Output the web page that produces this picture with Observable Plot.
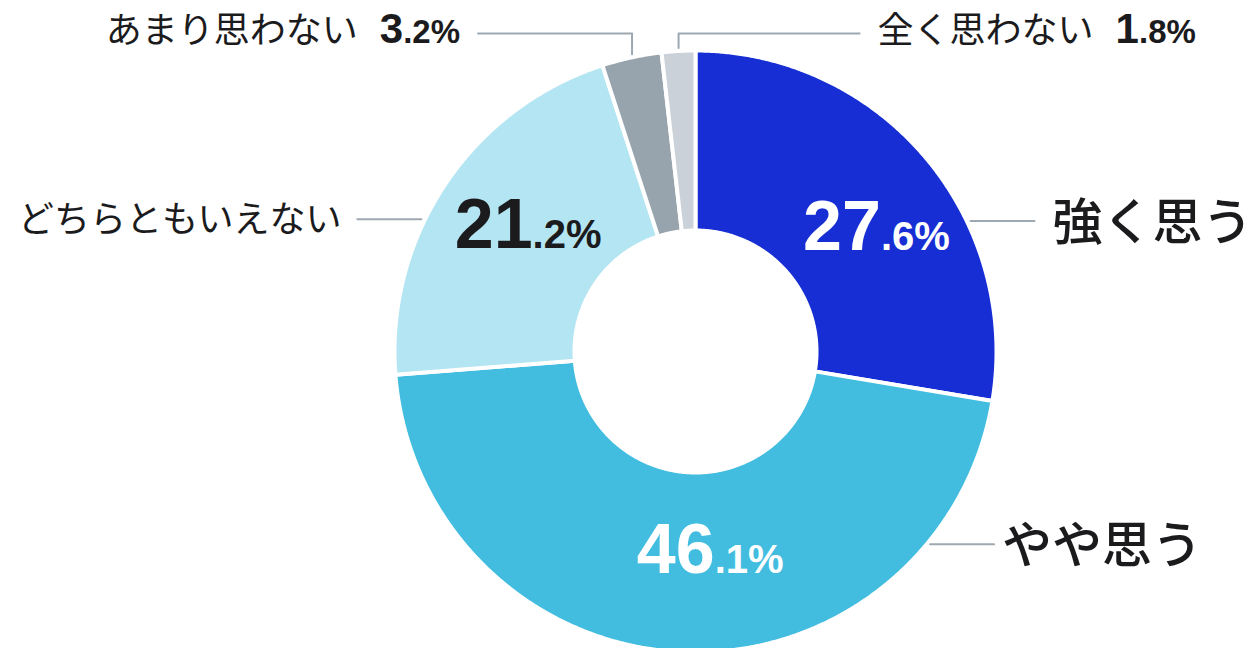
<!DOCTYPE html>
<html>
<head>
<meta charset="utf-8">
<script src="https://cdn.jsdelivr.net/npm/d3@7"></script>
<script src="https://cdn.jsdelivr.net/npm/@observablehq/plot@0.6"></script>
<style>
  html, body { margin: 0; padding: 0; background: #ffffff; }
  #chart svg { display: block; }
</style>
</head>
<body>
<div id="chart"></div>
<script>
// ---- data ----
const categories = ["強く思う", "やや思う", "どちらともいえない", "あまり思わない", "全く思わない"];
const values = [27.6, 46.1, 21.2, 3.2, 1.8];
const colors = ["#162ed3", "#42bde0", "#b3e5f3", "#98a4ad", "#cbd1d8"];
const valueTextColors = ["#ffffff", "#ffffff", "#1b1b1d", "#1b1b1d", "#1b1b1d"];

// ---- layout (styles / positions, not data) ----
const W = 1258, H = 648;
const CX = 695, CY = 351, R = 299, R0 = 123;
const GAP = 4;
const TOP_ROW = 33;
const INK = "#1b1b1d";
const LEADER = "#9ea8b1";
const JP = "'Noto Sans CJK JP', 'Noto Sans', sans-serif";
const NUM = "'Liberation Sans', Arial, sans-serif";
const labelLayout = {
  "強く思う":         {type: "big", side: 1, dx: 20, dy: 6, size: 50, gap: 18},
  "やや思う":         {type: "big", side: 1, dx: 24, dy: -18, size: 50, gap: 8},
  "どちらともいえない": {type: "big", side: -1, dx: 8, dy: -15, size: 36, gap: 16},
  "あまり思わない":    {type: "small", side: -1, len: 154},
  "全く思わない":      {type: "small", side: 1, len: 181}
};

const total = d3.sum(values);
let acc = 0;
const slices = categories.map((c, i) => {
  const a0 = acc / total * 2 * Math.PI;
  acc += values[i];
  const a1 = acc / total * 2 * Math.PI;
  return {c, i, v: values[i], a0, a1, mid: (a0 + a1) / 2};
});
const pt = (a, r) => [CX + r * Math.sin(a), CY - r * Math.cos(a)];

function ring(s) {
  const n = Math.max(12, Math.ceil((s.a1 - s.a0) * 180 / Math.PI * 3));
  const ro = R + GAP / 2, ri = R0 - GAP / 2;
  const pts = [];
  for (let k = 0; k <= n; k++) { const [x, y] = pt(s.a0 + (s.a1 - s.a0) * k / n, ro); pts.push({x, y}); }
  for (let k = n; k >= 0; k--) { const [x, y] = pt(s.a0 + (s.a1 - s.a0) * k / n, ri); pts.push({x, y}); }
  pts.push(pts[0]);
  return pts;
}

function splitValue(v) {
  const [a, b] = String(v).split(".");
  return {int: a, dec: "." + (b || "0") + "%"};
}

const marks = [];
for (const s of slices) {
  marks.push(Plot.line(ring(s), {
    x: "x", y: "y", curve: "linear",
    fill: colors[s.i], stroke: "#ffffff", strokeWidth: GAP, strokeLinejoin: "round"
  }));
}

const leaders = [];
const valueLabels = [];
const outerLabels = [];
const smallLabels = [];
const rich = new Map();

for (const s of slices) {
  const L = labelLayout[s.c];
  const sv = splitValue(s.v);
  if (L.type === "big") {
    const [mx, my] = pt(s.mid, (R + R0) / 2);
    const px = mx + L.dx, py = my + L.dy;
    const txt = sv.int + sv.dec;
    valueLabels.push({x: px, y: py, text: txt, color: valueTextColors[s.i]});
    rich.set(txt, [
      {t: sv.int, size: 70, family: NUM, weight: 700},
      {t: sv.dec, size: 40, family: NUM, weight: 700}
    ]);
    const xe = CX + L.side * Math.sqrt(R * R - (py - CY) * (py - CY));
    const x1 = xe + L.side * 6, x2 = x1 + L.side * 64;
    leaders.push({id: s.c, x: x1, y: py}, {id: s.c, x: x2, y: py});
    outerLabels.push({x: x2 + L.side * L.gap, y: py, text: s.c, anchor: L.side > 0 ? "start" : "end", size: L.size});
  } else {
    const [mx] = pt(s.mid, R);
    const ye = CY - Math.sqrt(R * R - (mx - CX) * (mx - CX));
    const xEnd = mx + L.side * L.len;
    leaders.push({id: s.c, x: mx, y: ye - 5}, {id: s.c, x: mx, y: TOP_ROW}, {id: s.c, x: xEnd, y: TOP_ROW});
    const txt = s.c + " " + sv.int + sv.dec;
    smallLabels.push({x: xEnd + L.side * 18, y: TOP_ROW, text: txt, anchor: L.side > 0 ? "start" : "end"});
    rich.set(txt, [
      {t: s.c, size: 36, family: JP, weight: 400},
      {t: sv.int, size: 42, family: NUM, weight: 700, dx: 22},
      {t: sv.dec, size: 33, family: NUM, weight: 700}
    ]);
  }
}

marks.push(Plot.line(leaders, {x: "x", y: "y", z: "id", stroke: LEADER, strokeWidth: 2, curve: "linear"}));

marks.push(Plot.text(valueLabels, {
  x: "x", y: "y", text: "text", fill: "color",
  textAnchor: "middle", lineAnchor: "bottom", dy: 29,
  fontSize: 70, fontFamily: NUM, fontWeight: 700
}));
for (const side of ["start", "end"]) {
  for (const size of [36, 50]) {
    const sub = outerLabels.filter(d => d.anchor === side && d.size === size);
    if (!sub.length) continue;
    marks.push(Plot.text(sub, {
      x: "x", y: "y", text: "text", fill: INK,
      textAnchor: side, lineAnchor: "middle", dy: size > 40 ? 3 : 1,
      fontSize: size, fontFamily: JP, fontWeight: size > 40 ? 500 : 400
    }));
  }
  marks.push(Plot.text(smallLabels.filter(d => d.anchor === side), {
    x: "x", y: "y", text: "text", fill: INK,
    textAnchor: side, lineAnchor: "middle", dy: -2,
    fontSize: 36, fontFamily: JP, fontWeight: 400
  }));
}

const chart = Plot.plot({
  width: W, height: H, margin: 0,
  style: {background: "#ffffff", overflow: "visible"},
  x: {domain: [0, W], range: [0, W], axis: null},
  y: {domain: [0, H], range: [0, H], axis: null},
  color: {type: "identity"},
  marks
});

// rich text: split labels into differently sized runs
chart.querySelectorAll("text").forEach(el => {
  const parts = rich.get(el.textContent);
  if (!parts) return;
  el.textContent = "";
  for (const p of parts) {
    const ts = document.createElementNS("http://www.w3.org/2000/svg", "tspan");
    ts.textContent = p.t;
    ts.setAttribute("font-size", p.size);
    ts.setAttribute("font-family", p.family);
    ts.setAttribute("font-weight", p.weight);
    if (p.dx) ts.setAttribute("dx", p.dx);
    el.appendChild(ts);
  }
});

document.getElementById("chart").appendChild(chart);
</script>
</body>
</html>
